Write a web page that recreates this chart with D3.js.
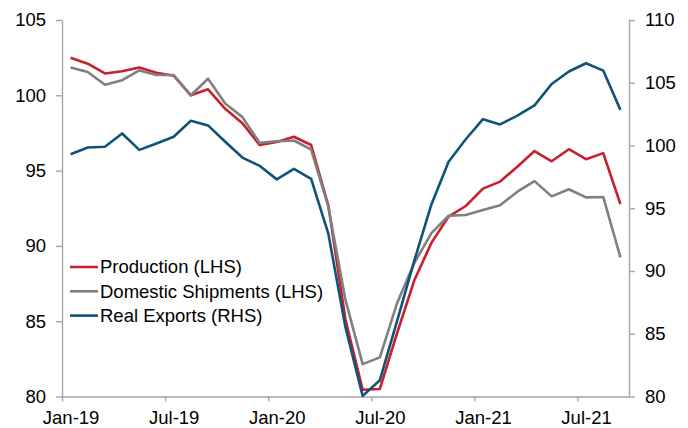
<!DOCTYPE html>
<html>
<head>
<meta charset="utf-8">
<script src="https://cdn.jsdelivr.net/npm/d3@7"></script>
<style>
  body { margin: 0; background: #fff; }
  svg { display: block; font-family: "Liberation Sans", Arial, sans-serif; }
  .axis path, .axis line { stroke: #a6a6a6; stroke-width: 1.4px; }
  .axis text { fill: #000; font-size: 18.5px; font-family: "Liberation Sans", Arial, sans-serif; }
</style>
</head>
<body>
<div id="frame"></div>
<script>
// monthly, Jan-19 .. Sep-21
let months = d3.range(33).map(i => new Date(2019, i, 1));
let xLabels = ["Jan-19", "Jul-19", "Jan-20", "Jul-20", "Jan-21", "Jul-21"];
let xTickIdx = [0, 6, 12, 18, 24, 30];
let leftTicks = [80, 85, 90, 95, 100, 105];
let rightTicks = [80, 85, 90, 95, 100, 105, 110];

let production = [102.5, 102.1, 101.45, 101.6, 101.85, 101.5, 101.3, 100.0, 100.4, 99.1, 98.15, 96.7,
  96.9, 97.25, 96.7, 92.7, 85.1, 80.45, 80.5, 84.2, 87.7, 90.2, 91.95, 92.65,
  93.8, 94.27, 95.26, 96.3, 95.62, 96.42, 95.76, 96.16, 92.78];
let domestic = [101.85, 101.55, 100.7, 101.0, 101.65, 101.35, 101.35, 100.0, 101.1, 99.45, 98.55, 96.85,
  96.95, 97.0, 96.4, 92.6, 86.4, 82.15, 82.6, 86.2, 88.85, 90.85, 92.0, 92.05,
  92.38, 92.7, 93.6, 94.3, 93.29, 93.76, 93.22, 93.25, 89.24];
let exports = [99.3, 99.84, 99.9, 100.96, 99.65, 100.16, 100.7, 101.97, 101.6, 100.3, 99.04, 98.38,
  97.3, 98.14, 97.34, 92.98, 85.5, 80.05, 81.3, 86.0, 90.8, 95.3, 98.7, 100.5,
  102.1, 101.68, 102.38, 103.2, 104.9, 105.9, 106.55, 105.97, 102.84];

let width = 688, height = 428;
let plot = { left: 62, right: 629, top: 20, bottom: 396.5 };

let svg = d3.select('#frame')
  .append('svg')
  .attr('width', width)
  .attr('height', height);

// x: month index, points sit in the middle of each month
let x = d3.scaleLinear().domain([0, months.length]).range([plot.left, plot.right]);
let yL = d3.scaleLinear().domain([80, 105]).range([plot.bottom, plot.top]);
let yR = d3.scaleLinear().domain([80, 110]).range([plot.bottom, plot.top]);
let halfMonth = (x(1) - x(0)) / 2;

//axes
let xAxis = svg.append('g')
  .attr('class', 'axis')
  .attr('transform', 'translate(0,' + plot.bottom + ')')
  .call(d3.axisBottom(x)
    .tickValues(xTickIdx)
    .tickFormat((d, i) => xLabels[i])
    .tickSize(5)
    .tickPadding(9)
    .tickSizeOuter(0));
// labels sit in the middle of their month, ticks on the month start
xAxis.selectAll('.tick text').attr('x', halfMonth);

svg.append('g')
  .attr('class', 'axis')
  .attr('transform', 'translate(' + plot.left + ',0)')
  .call(d3.axisLeft(yL)
    .tickValues(leftTicks)
    .tickSize(6)
    .tickPadding(10)
    .tickSizeOuter(0));

svg.append('g')
  .attr('class', 'axis')
  .attr('transform', 'translate(' + plot.right + ',0)')
  .call(d3.axisRight(yR)
    .tickValues(rightTicks)
    .tickSize(6)
    .tickPadding(10)
    .tickSizeOuter(0));

//series
let series = [
  { name: 'Production (LHS)', values: production, y: yL, color: '#c8202f' },
  { name: 'Domestic Shipments (LHS)', values: domestic, y: yL, color: '#808080' },
  { name: 'Real Exports (RHS)', values: exports, y: yR, color: '#0f5478' }
];

series.forEach(s => {
  let line = d3.line()
    .x((d, i) => x(i + 0.5))
    .y(d => s.y(d));
  svg.append('path')
    .datum(s.values)
    .attr('d', line)
    .attr('fill', 'none')
    .attr('stroke', s.color)
    .attr('stroke-width', 2.6)
    .attr('stroke-linejoin', 'round');
});

//legend
let legend = svg.append('g');
series.forEach((s, i) => {
  let ly = 267 + i * 24.3;
  legend.append('line')
    .attr('x1', 70).attr('x2', 98)
    .attr('y1', ly).attr('y2', ly)
    .attr('stroke', s.color)
    .attr('stroke-width', 2.6);
  legend.append('text')
    .attr('x', 100)
    .attr('y', ly)
    .attr('dy', '0.35em')
    .style('font-size', '18.5px')
    .style('fill', '#000')
    .text(s.name);
});
</script>
</body>
</html>
